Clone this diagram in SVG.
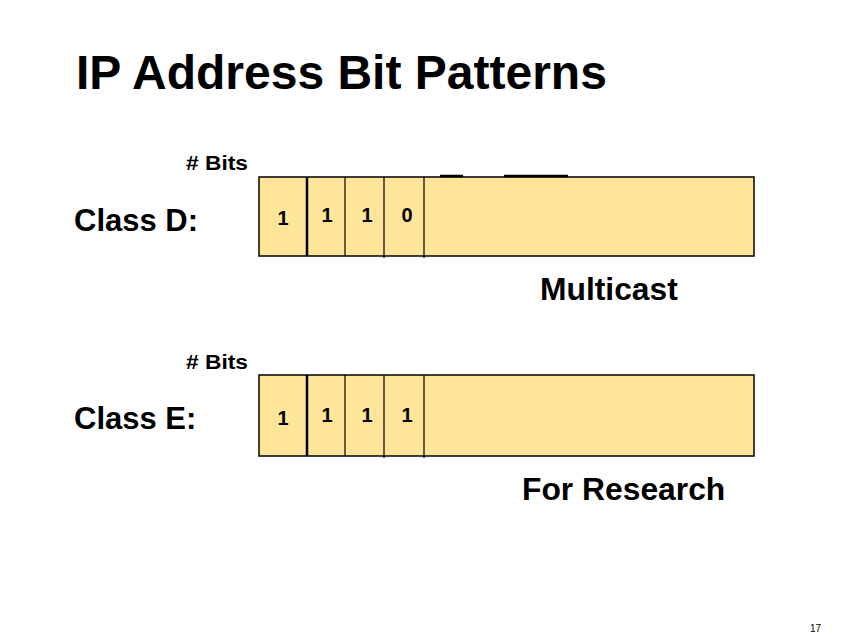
<svg xmlns="http://www.w3.org/2000/svg" width="853" height="640" viewBox="0 0 853 640">
<style>
text{font-family:"Liberation Sans",Arial,sans-serif;font-weight:bold;fill:#000}
.box{fill:#FFE599;stroke:#000;stroke-width:1.5}
.div{stroke:#000;stroke-width:1.2}
.thick{stroke:#000;stroke-width:2.5}
.bit{font-size:20px;text-anchor:middle}
.lbl{font-size:31px}
.big{font-size:31.8px}
.small{font-size:20px}
.num{font-size:10px;font-weight:normal}
</style>
<rect width="853" height="640" fill="#fff"/>
<text x="76" y="89" font-size="48">IP Address Bit Patterns</text>
<g id="classD">
<text class="small" x="186" y="170" textLength="62" lengthAdjust="spacingAndGlyphs"># Bits</text>
<text class="lbl" x="74" y="231">Class D:</text>
<rect class="box" x="259" y="177" width="495" height="79"/>
<line class="thick" x1="307" y1="177" x2="307" y2="256"/>
<line class="div" x1="345" y1="177" x2="345" y2="256"/>
<line class="div" x1="384" y1="177" x2="384" y2="258"/>
<line class="div" x1="424" y1="177" x2="424" y2="258"/>
<line class="thick" x1="440" y1="176" x2="463" y2="176"/>
<line class="thick" x1="504" y1="176" x2="568" y2="176"/>
<text class="bit" x="283" y="225">1</text>
<text class="bit" x="327" y="222">1</text>
<text class="bit" x="367" y="222">1</text>
<text class="bit" x="407" y="222">0</text>
<text class="big" x="540" y="300">Multicast</text>
</g>
<g id="classE">
<text class="small" x="186" y="369" textLength="62" lengthAdjust="spacingAndGlyphs"># Bits</text>
<text class="lbl" x="74" y="429">Class E:</text>
<rect class="box" x="259" y="375" width="495" height="81"/>
<line class="thick" x1="307" y1="375" x2="307" y2="456"/>
<line class="div" x1="345" y1="375" x2="345" y2="456"/>
<line class="div" x1="384" y1="375" x2="384" y2="458"/>
<line class="div" x1="424" y1="375" x2="424" y2="458"/>
<text class="bit" x="283" y="425">1</text>
<text class="bit" x="327" y="422">1</text>
<text class="bit" x="367" y="422">1</text>
<text class="bit" x="407" y="422">1</text>
<text class="big" x="522" y="500">For Research</text>
</g>
<text class="num" x="810" y="632">17</text>
</svg>
